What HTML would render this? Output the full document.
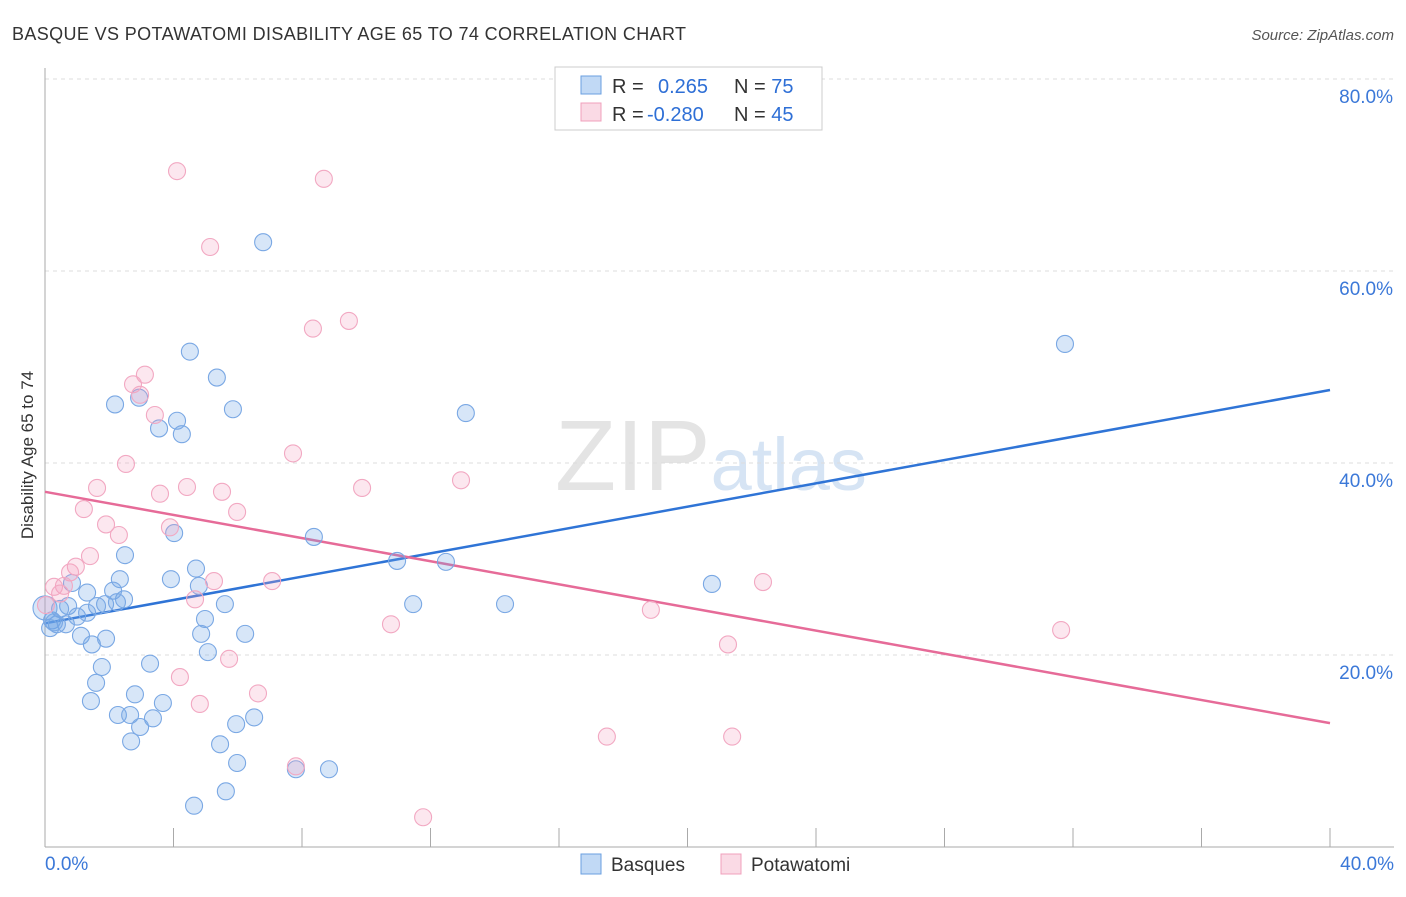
<!DOCTYPE html>
<html><head><meta charset="utf-8"><style>
body{margin:0;background:#fff;font-family:"Liberation Sans",sans-serif;}
svg text{font-family:"Liberation Sans",sans-serif;}
</style></head><body>
<svg width="1406" height="892" id="chart">
<text x="12" y="40" font-size="18" fill="#333" textLength="674" lengthAdjust="spacing">BASQUE VS POTAWATOMI DISABILITY AGE 65 TO 74 CORRELATION CHART</text>
<text x="1394" y="40" font-size="15" fill="#555" font-style="italic" text-anchor="end">Source: ZipAtlas.com</text>
<text x="555" y="490" font-size="100" fill="#e4e4e4" font-family="Liberation Serif">ZIP<tspan fill="#d6e4f4" font-family="Liberation Sans" font-size="74">atlas</tspan></text>
<text transform="translate(33,455) rotate(-90)" font-size="17" fill="#333" text-anchor="middle">Disability Age 65 to 74</text>
<g id="grid"></g><g id="ticks"></g><g id="lines"></g><g id="pts"></g>
<g>
<rect x="555" y="67" width="267" height="63" fill="#fff" stroke="#ccc"/>
<rect x="581" y="76" width="20" height="18" fill="rgba(100,160,230,0.4)" stroke="#6a9fe0"/>
<rect x="581" y="103" width="20" height="18" fill="rgba(240,150,180,0.35)" stroke="#f0a0bc"/>
<text x="612" y="93" font-size="20" fill="#333">R = <tspan fill="#2e6fd6" x="658">0.265</tspan><tspan x="734" fill="#333">N = </tspan><tspan fill="#2e6fd6">75</tspan></text>
<text x="612" y="121" font-size="20" fill="#333">R = <tspan fill="#2e6fd6" x="647">-0.280</tspan><tspan x="734" fill="#333">N = </tspan><tspan fill="#2e6fd6">45</tspan></text>
</g>
<g>
<rect x="581" y="854" width="20" height="20" fill="rgba(100,160,230,0.4)" stroke="#6a9fe0"/>
<text x="611" y="871" font-size="19" fill="#333">Basques</text>
<rect x="721" y="854" width="20" height="20" fill="rgba(240,150,180,0.35)" stroke="#f0a0bc"/>
<text x="751" y="871" font-size="19" fill="#333">Potawatomi</text>
</g>
</svg>
<script>
const xTicks=[0,4,8,12,16,20,24,28,32,36,40];
const yTicks=[20,40,60,80];
const blueX=[6.79,4.51,5.35,2.18,2.93,5.85,4.11,3.55,4.26,13.1,31.75,4.02,8.37,2.49,10.96,12.48,20.76,4.70,2.33,3.92,4.79,1.31,0.84,2.46,2.12,1.87,2.24,1.62,0.72,0.47,1.0,1.31,0.22,0.37,0.65,0.16,1.12,1.46,1.90,5.60,4.98,4.86,6.23,5.07,11.46,14.32,1.77,3.27,1.59,2.80,1.43,3.67,2.27,2.65,3.36,2.96,5.95,6.51,2.68,5.45,5.98,7.81,8.84,4.64,5.63,0,0.28];
const blueY=[63.0,51.6,48.9,46.1,46.8,45.6,44.4,43.6,43.0,45.2,52.4,32.7,32.3,30.4,29.8,29.7,27.4,29.0,27.9,27.9,27.2,26.5,27.5,25.8,26.7,25.3,25.5,25.1,25.1,24.8,24.0,24.4,23.6,23.2,23.2,22.8,22.0,21.1,21.7,25.3,23.75,22.2,22.2,20.3,25.3,25.3,18.75,19.1,17.1,15.9,15.2,15.0,13.75,13.75,13.4,12.5,12.8,13.5,11.0,10.7,8.75,8.1,8.1,4.3,5.8,24.9,23.4];
const pinkX=[4.11,8.68,5.14,8.34,9.46,3.11,2.74,2.96,3.42,2.52,7.72,12.95,9.87,1.62,4.42,5.51,3.58,1.21,5.98,1.90,3.89,2.30,1.40,0.96,0.78,0.59,0.28,0.47,5.26,7.07,22.35,4.67,18.86,10.77,31.63,21.26,5.73,4.20,4.82,6.63,7.81,17.49,21.39,11.77,0.03];
const pinkY=[70.4,69.6,62.5,54.0,54.8,49.2,48.2,47.1,45.0,39.9,41.0,38.2,37.4,37.4,37.5,37.0,36.8,35.2,34.9,33.6,33.3,32.5,30.3,29.2,28.6,27.2,27.1,26.4,27.7,27.7,27.6,25.8,24.7,23.2,22.6,21.1,19.6,17.7,14.9,16.0,8.4,11.5,11.5,3.1,25.2];
const blueTrend=[23.3,47.6];
const pinkTrend=[37.0,12.9];
const NS="http://www.w3.org/2000/svg";
const X=v=>45+v*32.125, Y=v=>847-v*9.6;
function mk(tag,attrs,parent){const e=document.createElementNS(NS,tag);for(const k in attrs)e.setAttribute(k,attrs[k]);document.getElementById(parent).appendChild(e);return e;}
yTicks.forEach(t=>{
 const g=mk('line',{x1:45,x2:1394,y1:Y(t),y2:Y(t),stroke:'#ddd','stroke-dasharray':'4,4'},'grid');
 
 
 const l=mk('text',{x:1393,y:Y(t)+24,'font-size':19,fill:'#3b78d8','text-anchor':'end'},'ticks');
 l.textContent=t.toFixed(1)+'%';
 
 
});
const ax=mk('line',{x1:45,x2:1394,y1:847,y2:847,stroke:'#aaa'},'grid');


const ay=mk('line',{x1:45,x2:45,y1:68,y2:847,stroke:'#aaa'},'grid');


xTicks.forEach(t=>{
 const tk=mk('line',{x1:X(t),x2:X(t),y1:828,y2:847,stroke:'#aaa'},'grid');
 
 
});
[[0,'start',45],[40,'end',1394]].forEach(([v,a,px])=>{
 const l=mk('text',{x:px,y:870,'font-size':19,fill:'#3b78d8','text-anchor':a},'ticks');
 l.textContent=v.toFixed(1)+'%';
 
 
});
const bl=mk('line',{x1:X(0),y1:Y(blueTrend[0]),x2:X(40),y2:Y(blueTrend[1]),stroke:'#2f74d6','stroke-width':2.5},'lines');


const pl=mk('line',{x1:X(0),y1:Y(pinkTrend[0]),x2:X(40),y2:Y(pinkTrend[1]),stroke:'#e66b98','stroke-width':2.5},'lines');


blueX.forEach((v,i)=>{
 const c=mk('circle',{cx:X(v),cy:Y(blueY[i]),r:v===0?12:8.5,fill:'rgba(110,165,230,0.28)',stroke:'#7aa8e4','stroke-width':1.1},'pts');
 
 
});
pinkX.forEach((v,i)=>{
 const c=mk('circle',{cx:X(v),cy:Y(pinkY[i]),r:8.5,fill:'rgba(245,160,190,0.25)',stroke:'#f2a8c2','stroke-width':1.1},'pts');
 
 
});
</script>
</body></html>
